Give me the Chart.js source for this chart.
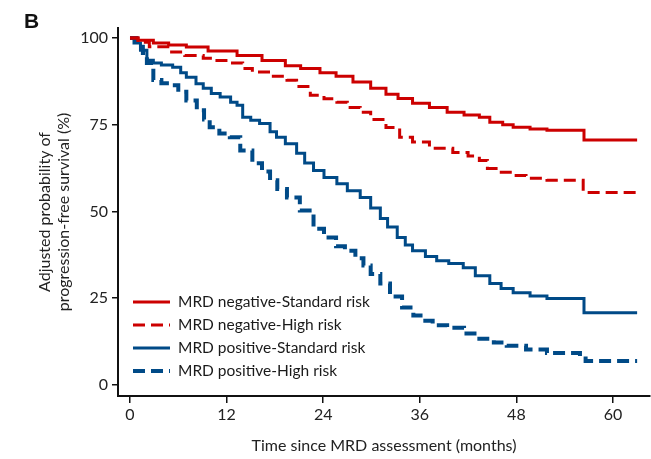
<!DOCTYPE html>
<html>
<head>
<meta charset="utf-8">
<script src="https://cdn.jsdelivr.net/npm/chart.js@4/dist/chart.umd.min.js"></script>
<style>
  html, body { margin: 0; padding: 0; background: #fff; }
  #wrap { position: relative; width: 651px; height: 459px; }
  #panel { position: absolute; left: 24px; top: 9px; font: bold 21px "Liberation Sans", Arial, sans-serif; color: #111; }
</style>
</head>
<body>
<div id="wrap">
  <canvas id="km" width="651" height="459"></canvas>
  <div id="panel">B</div>
</div>
<script>
// months since MRD assessment / adjusted PFS (%)
const negStdT = [0, 1, 2.9, 4.8, 7, 9.7, 13.3, 16.4, 19.3, 21.2, 23.6, 25.6, 27.7, 29.9, 31.8, 33.3, 35.1, 37.2, 39.4, 41.5, 43.4, 44.7, 46.3, 47.6, 49.7, 51.8, 56.4, 63];
const negStdS = [100, 99.4, 98.6, 98, 97.4, 96.3, 95, 93.5, 92, 91.2, 90, 89, 87.3, 85.5, 83.8, 82.6, 81.2, 80, 78.6, 77.8, 77.2, 75.7, 75, 74.3, 73.8, 73.4, 70.6, 70.6];

const negHighT = [0, 1, 2.4, 4.9, 6.8, 9.1, 10.6, 12.4, 14, 15.2, 17.4, 19.5, 20.7, 22.4, 24.1, 25.7, 27, 28.6, 29.9, 31.8, 33.5, 35.1, 37.2, 40.1, 42, 43.4, 44.4, 45.8, 47.6, 49.2, 51.8, 56.3, 63];
const negHighS = [100, 98.8, 97.5, 96, 95, 94.2, 93.5, 92.8, 91.2, 90.2, 89, 87.8, 86, 83.5, 82.5, 81.5, 80, 78.6, 76.5, 74.2, 71.4, 70, 68.2, 67, 66, 64.7, 62.4, 61.3, 60.4, 59.6, 59, 55.5, 55.5];

const posStdT = [0, 0.5, 1.3, 2.1, 2.9, 3.9, 5.3, 6.3, 7, 8.2, 9.1, 10.1, 11.2, 12.5, 13.3, 14, 15, 16.1, 17.4, 18.2, 19.3, 20.7, 21.7, 22.8, 24.1, 25.7, 27, 28.6, 29.9, 31.1, 32, 33.2, 34.2, 35.1, 36.7, 38.1, 39.6, 41.4, 42.9, 44.7, 46.1, 47.6, 49.7, 51.8, 56.4, 63];
const posStdS = [100, 98.6, 96.5, 93.6, 92.8, 92.2, 91.6, 90, 88.7, 86.8, 85.5, 84, 83, 81.5, 80.6, 77.2, 76.3, 75.4, 73, 71.4, 69.5, 66.8, 64, 61.8, 59.8, 58, 56, 54, 51, 48, 45.5, 42.5, 40.3, 38.7, 37, 35.8, 35, 33.8, 31.5, 29.2, 27.8, 26.6, 25.6, 24.9, 20.8, 20.8];

const posHighT = [0, 0.8, 1.6, 2.1, 2.9, 3.9, 4.9, 6, 7, 8.3, 9.2, 9.9, 11.1, 12.4, 13.7, 15.2, 16.4, 17.4, 18.3, 19.5, 21.1, 22.8, 24.1, 25.6, 26.7, 28, 29, 29.9, 31.1, 32.3, 33.8, 35.2, 36.4, 37.6, 39.4, 41.5, 43.4, 45.2, 46.8, 49.2, 51.8, 55.9, 56.6, 63];
const posHighS = [100, 97.5, 95.7, 92.8, 87.9, 87, 86.4, 84.5, 82, 79.2, 76.5, 74.3, 72.5, 71.4, 67.6, 63.9, 61.5, 59, 56.5, 54, 50.3, 45, 42.5, 40, 38.7, 36.5, 34.4, 32, 29.2, 25.5, 22.3, 20, 18.5, 17.2, 16.5, 14.8, 13.3, 12.2, 11.3, 10.2, 9.2, 8.3, 6.9, 6.9];

const seriesLabels = ["MRD negative-Standard risk", "MRD negative-High risk", "MRD positive-Standard risk", "MRD positive-High risk"];
const xTicks = [0, 12, 24, 36, 48, 60];
const yTicks = [0, 25, 50, 75, 100];

const RED = "#cc0000", BLUE = "#004a87";
const TXT = 'Lato, "Open Sans", sans-serif';

function pts(t, s) { return t.map((v, i) => ({ x: v, y: s[i] })); }

function ds(label, t, s, color, dash, width) {
  return {
    label: label, data: pts(t, s), borderColor: color, backgroundColor: color,
    borderWidth: width, borderDash: dash, stepped: true, pointRadius: 0,
    fill: false, borderCapStyle: "butt", borderJoinStyle: "miter",
  };
}

// legend drawn inside the plot, bottom-left like the original
const insideLegend = {
  id: "insideLegend",
  afterDatasetsDraw(chart) {
    const ctx = chart.ctx;
    const rows = [302, 325, 348, 371];
    ctx.save();
    chart.data.datasets.forEach((d, i) => {
      const y = rows[i];
      ctx.beginPath();
      ctx.setLineDash(d.borderDash || []);
      ctx.lineWidth = d.borderWidth;
      ctx.strokeStyle = d.borderColor;
      ctx.moveTo(133, y);
      ctx.lineTo(170, y);
      ctx.stroke();
      ctx.setLineDash([]);
      ctx.fillStyle = "#1a1a1a";
      ctx.font = "15.5px " + TXT;
      ctx.textBaseline = "middle";
      ctx.fillText(d.label, 178, y);
    });
    ctx.restore();
  },
};

new Chart(document.getElementById("km").getContext("2d"), {
  type: "line",
  data: {
    datasets: [
      ds(seriesLabels[0], negStdT, negStdS, RED, [], 3),
      ds(seriesLabels[1], negHighT, negHighS, RED, [12, 6], 3),
      ds(seriesLabels[2], posStdT, posStdS, BLUE, [], 3),
      ds(seriesLabels[3], posHighT, posHighS, BLUE, [12, 6], 4),
    ],
  },
  plugins: [insideLegend],
  options: {
    responsive: false, animation: false,
    layout: { padding: { left: 36, top: 28, right: 1, bottom: 0 } },
    plugins: { legend: { display: false }, tooltip: { enabled: false } },
    scales: {
      x: {
        type: "linear", min: -1.49, max: 64.6,
        afterBuildTicks: (s) => { s.ticks = xTicks.map((v) => ({ value: v })); },
        afterFit: (s) => { s.height = 63; },
        border: { display: true, color: "#111", width: 2 },
        grid: { drawOnChartArea: false, color: "#111", tickLength: 7, lineWidth: 1.5 },
        ticks: { color: "#222", font: { family: TXT, size: 16 }, padding: 2, maxRotation: 0 },
        title: { display: true, text: "Time since MRD assessment (months)", color: "#222", font: { family: TXT, size: 16 }, padding: { top: 3 } },
      },
      y: {
        type: "linear", min: -3.2, max: 102.9,
        afterBuildTicks: (s) => { s.ticks = yTicks.map((v) => ({ value: v })); },
        afterFit: (s) => { s.width = 82; },
        border: { display: true, color: "#111", width: 2 },
        grid: { drawOnChartArea: false, color: "#111", tickLength: 6, lineWidth: 1.5 },
        ticks: { color: "#222", font: { family: TXT, size: 16 }, padding: 4 },
        title: { display: true, text: ["Adjusted probability of", "progression-free survival (%)"], color: "#222", font: { family: TXT, size: 16, lineHeight: 1.15 }, padding: { top: 0, bottom: 4 } },
      },
    },
  },
});
</script>
</body>
</html>
